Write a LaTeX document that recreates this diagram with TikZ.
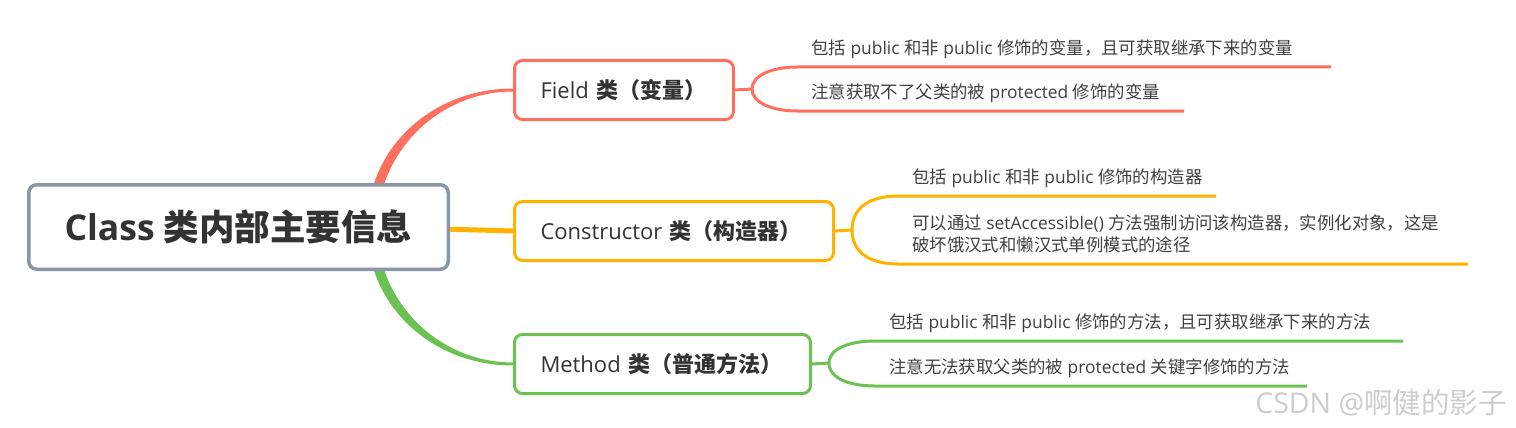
\documentclass[tikz,border=0pt]{standalone}
\usepackage{fontspec}
\setmainfont{Open Sans}
\newfontfamily\cjk{Noto Sans CJK SC}
\newcommand{\zh}[1]{{\cjk #1}}
\usepackage{xcolor}
\usetikzlibrary{calc,backgrounds}

\definecolor{rootc}{RGB}{138,150,168}
\definecolor{fieldc}{RGB}{255,111,94}
\definecolor{conc}{RGB}{255,179,0}
\definecolor{methc}{RGB}{107,194,83}
\definecolor{textc}{RGB}{51,51,51}
\definecolor{leafc}{RGB}{64,64,64}
\definecolor{wmc}{RGB}{205,205,205}

\begin{document}
\begin{tikzpicture}[x=1pt, y=-1pt,
	root/.style={draw=rootc, line width=3.5pt, rounded corners=8pt, fill=white,
		minimum width=419.5pt, minimum height=84.5pt, inner sep=0pt,
		font=\fontsize{35.5}{40}\selectfont\bfseries, text=textc},
	topic/.style={line width=3pt, rounded corners=8pt, fill=white, minimum height=59pt,
		inner xsep=26pt, inner ysep=0pt, align=left,
		font=\fontsize{22}{26}\selectfont, text=textc},
	leaf/.style={anchor=south west, inner xsep=14pt, inner ysep=8pt, text depth=4pt,
		align=left, font=\fontsize{17.4}{22}\selectfont, text=leafc},
	bline/.style={line width=3pt}
]
	\useasboundingbox (0,0) rectangle (1516,428);

	% Root
	\node[root] (root) at (238.5,227) {Class \zh{\bfseries 类内部主要信息}};
	\coordinate (hub) at (372,227);

	% Topics
	\node[topic, draw=fieldc, text width=167pt] (field) at (624,90)
		{Field \zh{\bfseries 类（变量）}};
	\node[topic, draw=conc, text width=267pt] (con) at (674,231)
		{Constructor \zh{\bfseries 类（构造器）}};
	\node[topic, draw=methc, text width=244pt] (meth) at (662.5,364)
		{Method \zh{\bfseries 类（普通方法）}};

	% Main branches
	\begin{scope}[on background layer]
		\fill[fieldc] ($(hub)+(-5,0)$) .. controls +(0,-80) and +(-80,0) .. ($(field.west)+(0,-1.5)$)
			-- ($(field.west)+(0,1.5)$) .. controls +(-76,0) and +(0,-73) .. ($(hub)+(5,0)$) -- cycle;
		\fill[methc] ($(hub)+(-5,0)$) .. controls +(0,80) and +(-80,0) .. ($(meth.west)+(0,1.5)$)
			-- ($(meth.west)+(0,-1.5)$) .. controls +(-76,0) and +(0,73) .. ($(hub)+(5,0)$) -- cycle;
		\draw[conc, line width=5pt] (hub) -- (con.west);
	\end{scope}

	% Field leaves
	\node[leaf] (f1) at (797,67)
		{\zh{包括} public \zh{和非} public \zh{修饰的变量，且可获取继承下来的变量}};
	\node[leaf] (f2) at (797,111)
		{\zh{注意获取不了父类的被} protected \zh{修饰的变量}};
	\coordinate (f1e) at (1331,67);
	\coordinate (f2e) at (1184,111);
	\coordinate (ffork) at (752,89);

	\draw[bline, fieldc] (field.east) -- (ffork);
	\draw[bline, fieldc] (ffork) .. controls +(0,-14) and +(-24,0) .. (f1.south west) -- (f1e);
	\draw[bline, fieldc] (ffork) .. controls +(0,14) and +(-24,0) .. (f2.south west) -- (f2e);

	% Constructor leaves
	\node[leaf] (c1) at (898,196)
		{\zh{包括} public \zh{和非} public \zh{修饰的构造器}};
	\node[leaf] (c2) at (898,264)
		{\zh{可以通过} setAccessible() \zh{方法强制访问该构造器，实例化对象，这是}\\
		 \zh{破坏饿汉式和懒汉式单例模式的途径}};
	\coordinate (c1e) at (1216,196);
	\coordinate (c2e) at (1468,264);
	\coordinate (cfork) at (852,230);

	\draw[bline, conc] (con.east) -- (cfork);
	\draw[bline, conc] (cfork) .. controls +(0,-24) and +(-26,0) .. (c1.south west) -- (c1e);
	\draw[bline, conc] (cfork) .. controls +(0,24) and +(-26,0) .. (c2.south west) -- (c2e);

	% Method leaves
	\node[leaf] (m1) at (875,341)
		{\zh{包括} public \zh{和非} public \zh{修饰的方法，且可获取继承下来的方法}};
	\node[leaf] (m2) at (875,386)
		{\zh{注意无法获取父类的被} protected \zh{关键字修饰的方法}};
	\coordinate (m1e) at (1403,341);
	\coordinate (m2e) at (1307,386);
	\coordinate (mfork) at (829,363);

	\draw[bline, methc] (meth.east) -- (mfork);
	\draw[bline, methc] (mfork) .. controls +(0,-15) and +(-24,0) .. (m1.south west) -- (m1e);
	\draw[bline, methc] (mfork) .. controls +(0,16) and +(-24,0) .. (m2.south west) -- (m2e);

	% Watermark
	\node[font=\fontsize{28.5}{32}\selectfont, text=wmc] (wm) at (1381,403)
		{CSDN @\zh{啊健的影子}};
\end{tikzpicture}
\end{document}
